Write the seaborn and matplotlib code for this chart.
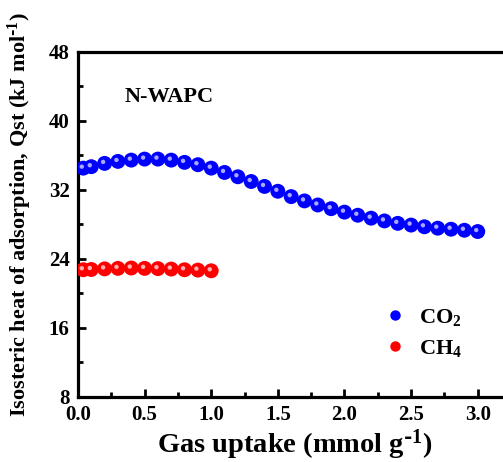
import numpy as np
import pandas as pd
import matplotlib
matplotlib.use("Agg")
import matplotlib.pyplot as plt
import matplotlib.transforms as mtransforms
from matplotlib.lines import Line2D
import seaborn as sns

# ---- data ----
co2_x = [0.04, 0.1, 0.2, 0.3, 0.4, 0.5, 0.6, 0.7, 0.8, 0.9, 1.0, 1.1, 1.2, 1.3, 1.4, 1.5,
         1.6, 1.7, 1.8, 1.9, 2.0, 2.1, 2.2, 2.3, 2.4, 2.5, 2.6, 2.7, 2.8, 2.9, 3.0]
co2_y = [34.5, 34.67, 35.05, 35.28, 35.43, 35.55, 35.55, 35.43, 35.17, 34.9, 34.5, 34.0, 33.5,
         32.95, 32.38, 31.82, 31.2, 30.7, 30.23, 29.8, 29.4, 29.04, 28.7, 28.38, 28.1, 27.9,
         27.7, 27.54, 27.42, 27.3, 27.15]
ch4_x = [0.04, 0.1, 0.2, 0.3, 0.4, 0.5, 0.6, 0.7, 0.8, 0.9, 1.0]
ch4_y = [22.72, 22.75, 22.82, 22.88, 22.92, 22.88, 22.85, 22.8, 22.72, 22.68, 22.6]
series_labels = ["CO$_2$", "CH$_4$"]
series_colors = ["#0000ff", "#ff0000"]
highlight_colors = ["#a8a8ff", "#ffb0b0"]
x_ticks = [0.0, 0.5, 1.0, 1.5, 2.0, 2.5, 3.0]
y_ticks = [8, 16, 24, 32, 40, 48]

df = pd.concat([
    pd.DataFrame({"x": co2_x, "y": co2_y, "gas": series_labels[0]}),
    pd.DataFrame({"x": ch4_x, "y": ch4_y, "gas": series_labels[1]}),
], ignore_index=True)

sns.set_style("ticks")
plt.rcParams["font.family"] = ["Liberation Serif", "DejaVu Serif"]
plt.rcParams["font.weight"] = "bold"
plt.rcParams["mathtext.default"] = "regular"
for k in ["text.color", "axes.labelcolor", "xtick.color", "ytick.color", "axes.edgecolor"]:
    plt.rcParams[k] = "black"

fig = plt.figure(figsize=(5.03, 4.62), dpi=100)
ax = fig.add_axes([0.155, 0.1413, 0.861, 0.7468])

sns.scatterplot(data=df, x="x", y="y", hue="gas", palette=dict(zip(series_labels, series_colors)),
                s=115, edgecolor="none", linewidth=0, legend=False, ax=ax, zorder=3)
off = mtransforms.offset_copy(ax.transData, fig=fig, x=-1.5, y=1.5, units="dots")
for xs, ys, hc in [(co2_x, co2_y, highlight_colors[0]), (ch4_x, ch4_y, highlight_colors[1])]:
    ax.scatter(xs, ys, s=10, color=hc, edgecolor="none", transform=off, zorder=4)

ax.set_xlim(0, 3.25)
ax.set_ylim(8, 48)
ax.set_xticks(x_ticks)
ax.set_yticks(y_ticks)
ax.set_xticks([0.25, 0.75, 1.25, 1.75, 2.25, 2.75], minor=True)
ax.set_yticks([12, 20, 28, 36, 44], minor=True)
ax.set_xticklabels([f"{v:.1f}" for v in x_ticks])
ax.set_yticklabels([str(v) for v in y_ticks])
ax.tick_params(axis="both", which="major", direction="in", length=6, width=2, labelsize=15,
               color="black", labelcolor="black")
ax.tick_params(axis="x", which="major", pad=6)
ax.tick_params(axis="y", which="major", pad=6)
ax.tick_params(axis="both", which="minor", direction="in", length=3.5, width=2, color="black")
ax.tick_params(top=False, right=False, which="both")
for s in ax.spines.values():
    s.set_linewidth(2.3)
    s.set_color("black")
ax.spines["right"].set_visible(False)
for lab in ax.get_xticklabels() + ax.get_yticklabels():
    lab.set_fontweight("bold")

ax.set_xlabel(r"Gas uptake (mmol g$^{\text{-}1}$)", fontsize=20.5, fontweight="bold",
              va="center")
ax.set_ylabel(r"Isosteric heat of adsorption, Qst (kJ mol$^{\text{-}1}$)", fontsize=16,
              fontweight="bold", va="center")
ax.xaxis.set_label_coords(0.5, -0.138)
ax.yaxis.set_label_coords(-0.134, 0.528)

ax.text(0.108, 0.87, "N-WAPC", transform=ax.transAxes, fontsize=16, fontweight="bold",
        ha="left", va="center")

handles = [Line2D([], [], marker="o", linestyle="none", markersize=7.5, color=c,
                  markeredgewidth=0) for c in series_colors]
ax.legend(handles, series_labels, loc="center left", bbox_to_anchor=(0.655, 0.185),
          frameon=False, prop={"size": 16, "weight": "bold"}, handletextpad=0.5,
          labelspacing=0.45, handlelength=1.2)

fig.savefig("out.png", dpi=100)
